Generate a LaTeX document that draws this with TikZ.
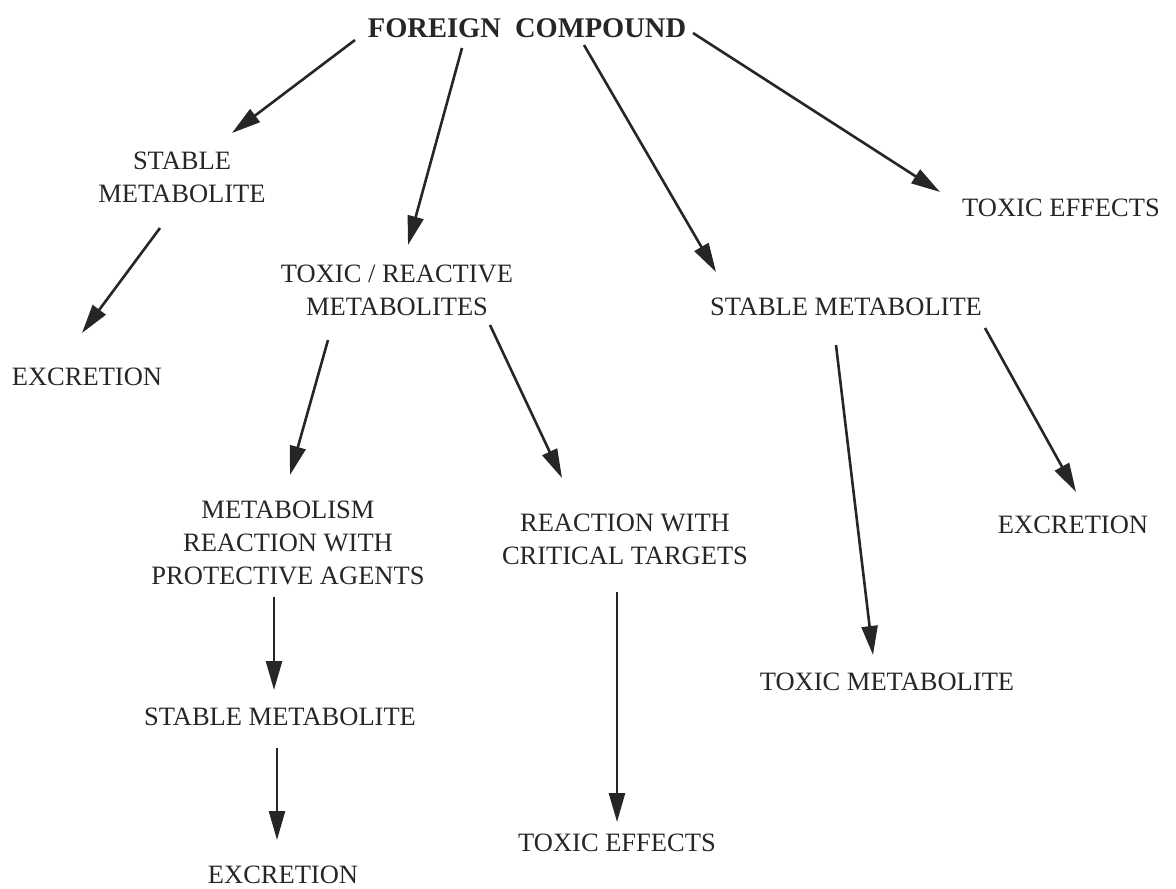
\documentclass[tikz,border=0pt]{standalone}
\usepackage{fontspec}
\setmainfont{Liberation Serif}
\usetikzlibrary{arrows.meta}
\begin{document}
\begin{tikzpicture}[x=1pt,y=-1pt,
  lbl/.style={font=\fontsize{26.5}{33}\selectfont, align=center, inner sep=0pt, text=black!85},
  conn/.style={line width=2.6pt, draw=black!85, -{Triangle[length=29pt,width=16pt]}}]
\useasboundingbox (0,0) rectangle (1176,889);
% nodes
\node[lbl, font=\fontsize{28.5}{33}\selectfont\bfseries] (fc) at (527,28) {FOREIGN\ \ COMPOUND};
\node[lbl] (sm1) at (182,177) {STABLE\\METABOLITE};
\node[lbl] (ex1) at (87,377) {EXCRETION};
\node[lbl] (trm) at (397,290) {TOXIC / REACTIVE\\METABOLITES};
\node[lbl] (sm2) at (846,307) {STABLE METABOLITE};
\node[lbl] (te1) at (1061,208) {TOXIC EFFECTS};
\node[lbl] (mrp) at (288,543) {METABOLISM\\REACTION WITH\\PROTECTIVE AGENTS};
\node[lbl] (rct) at (625,539) {REACTION WITH\\CRITICAL TARGETS};
\node[lbl] (ex2) at (1073,525) {EXCRETION};
\node[lbl] (tm) at (887,682) {TOXIC METABOLITE};
\node[lbl] (sm3) at (280,717) {STABLE METABOLITE};
\node[lbl] (ex3) at (283,875) {EXCRETION};
\node[lbl] (te2) at (617,843) {TOXIC EFFECTS};
% connector ends
\coordinate (a1s) at (355,40);  \coordinate (a1e) at (232,133);
\coordinate (a2s) at (462,48);  \coordinate (a2e) at (408,245);
\coordinate (a3s) at (584,45);  \coordinate (a3e) at (716,272);
\coordinate (a4s) at (693,33);  \coordinate (a4e) at (940,192);
\coordinate (a5s) at (160,228); \coordinate (a5e) at (82,333);
\coordinate (a6s) at (328,340); \coordinate (a6e) at (290,475);
\coordinate (a7s) at (490,325); \coordinate (a7e) at (562,478);
\coordinate (a8s) at (274,597); \coordinate (a8e) at (274,690);
\coordinate (a9s) at (277,748); \coordinate (a9e) at (277,840);
\coordinate (a10s) at (617,592); \coordinate (a10e) at (617,822);
\coordinate (a11s) at (836,345); \coordinate (a11e) at (873,655);
\coordinate (a12s) at (985,328); \coordinate (a12e) at (1076,492);
% connectors
\draw[conn] (a1s) -- (a1e);
\draw[conn] (a2s) -- (a2e);
\draw[conn] (a3s) -- (a3e);
\draw[conn] (a4s) -- (a4e);
\draw[conn] (a5s) -- (a5e);
\draw[conn] (a6s) -- (a6e);
\draw[conn] (a7s) -- (a7e);
\draw[conn] (a8s) -- (a8e);
\draw[conn] (a9s) -- (a9e);
\draw[conn] (a10s) -- (a10e);
\draw[conn] (a11s) -- (a11e);
\draw[conn] (a12s) -- (a12e);
\end{tikzpicture}
\end{document}
